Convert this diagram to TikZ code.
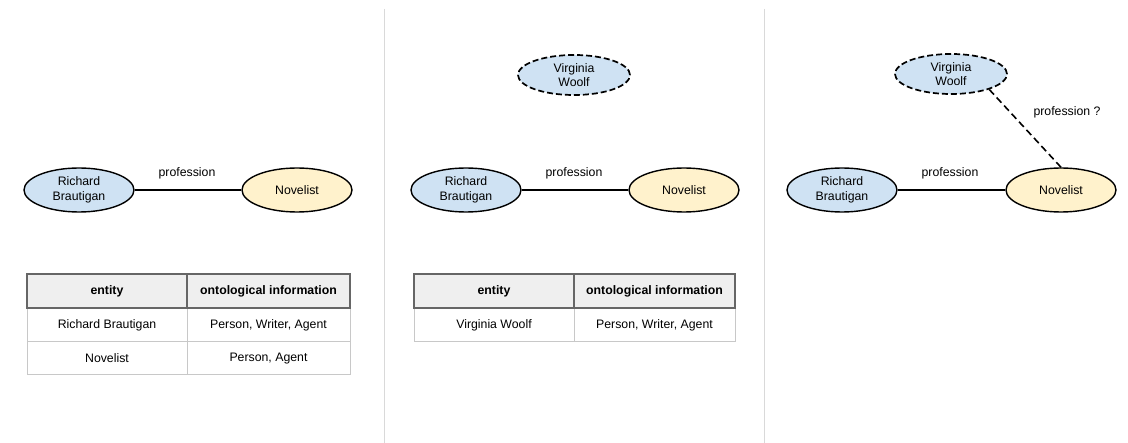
\documentclass[tikz,border=0pt]{standalone}
\usepackage{fontspec}
\setmainfont{Liberation Sans}
\usetikzlibrary{shapes.geometric}
\definecolor{entblue}{HTML}{CFE2F3}
\definecolor{entyellow}{HTML}{FFF2CC}
\definecolor{headfill}{HTML}{EFEFEF}
\definecolor{headline}{HTML}{666666}
\definecolor{cellline}{HTML}{C8C8C8}
\definecolor{panelline}{HTML}{D9D9D9}
\begin{document}
\begin{tikzpicture}[x=1pt,y=-1pt,
  every node/.style={font=\fontsize{12.3}{14.5}\selectfont},
  entity/.style={ellipse,draw=black,line width=1.4pt,minimum width=110pt,minimum height=44pt,inner sep=0pt,align=center},
  person/.style={entity,fill=entblue},
  concept/.style={entity,fill=entyellow},
  guess/.style={entity,fill=entblue,line width=1.7pt,dash pattern=on 6pt off 3pt,minimum width=112pt,minimum height=40pt},
  rel/.style={draw=black,line width=1.4pt},
  guessrel/.style={draw=black,line width=1.6pt,dash pattern=on 7pt off 4pt},
  rellabel/.style={inner sep=0pt},
  headcell/.style={inner sep=0pt,font=\fontsize{12.3}{14.5}\selectfont\bfseries},
  cell/.style={inner sep=0pt},
  divider/.style={draw=panelline,line width=1pt}
]
\useasboundingbox (0,0) rectangle (1128,443);

% panel separators
\draw[divider] (384.5,9) -- (384.5,443);
\draw[divider] (764,9) -- (764,443);

% ---- panel 1: known fact ----
\node[person]  (rb1) at (79,190) {Richard\\Brautigan};
\node[concept] (nv1) at (297,190) {Novelist};
\draw[rel] (rb1) -- (nv1);
\node[rellabel] (p1) at (187,173) {profession};

% table 1
\fill[headfill] (27,274) rectangle (350,308);
\draw[cellline,line width=1pt] (27,308) -- (27,375) -- (350,375) -- (350,308);
\draw[cellline,line width=1pt] (27,342) -- (350,342);
\draw[cellline,line width=1pt] (187,308) -- (187,375);
\draw[headline,line width=1.5pt] (27,274) rectangle (350,308);
\draw[headline,line width=1.5pt] (187,274) -- (187,308);
\node[headcell] (t1h1) at (107,291) {entity};
\node[headcell] (t1h2) at (268.5,291) {ontological information};
\node[cell] (t1a1) at (107,325) {Richard Brautigan};
\node[cell] (t1a2) at (268.5,325) {Person, Writer, Agent};
\node[cell] (t1b1) at (107,358.5) {Novelist};
\node[cell] (t1b2) at (268.5,358.5) {Person, Agent};

% ---- panel 2: new entity ----
\node[guess]   (vw2) at (574,75) {Virginia\\Woolf};
\node[person]  (rb2) at (466,190) {Richard\\Brautigan};
\node[concept] (nv2) at (684,190) {Novelist};
\draw[rel] (rb2) -- (nv2);
\node[rellabel] (p2) at (574,173) {profession};

% table 2
\fill[headfill] (414,274) rectangle (735,308);
\draw[cellline,line width=1pt] (414,308) -- (414,342) -- (735,342) -- (735,308);
\draw[cellline,line width=1pt] (574,308) -- (574,342);
\draw[headline,line width=1.5pt] (414,274) rectangle (735,308);
\draw[headline,line width=1.5pt] (574,274) -- (574,308);
\node[headcell] (t2h1) at (494,291) {entity};
\node[headcell] (t2h2) at (654.5,291) {ontological information};
\node[cell] (t2a1) at (494,325) {Virginia Woolf};
\node[cell] (t2a2) at (654.5,325) {Person, Writer, Agent};

% ---- panel 3: inferred link ----
\node[guess]   (vw3) at (951,74) {Virginia\\Woolf};
\node[person]  (rb3) at (842,190) {Richard\\Brautigan};
\node[concept] (nv3) at (1061,190) {Novelist};
\draw[rel] (rb3) -- (nv3);
\node[rellabel] (p3) at (950,173) {profession};
\draw[guessrel] (vw3.-22) -- (nv3.north);
\node[rellabel] (p4) at (1067,112) {profession ?};
\end{tikzpicture}
\end{document}
